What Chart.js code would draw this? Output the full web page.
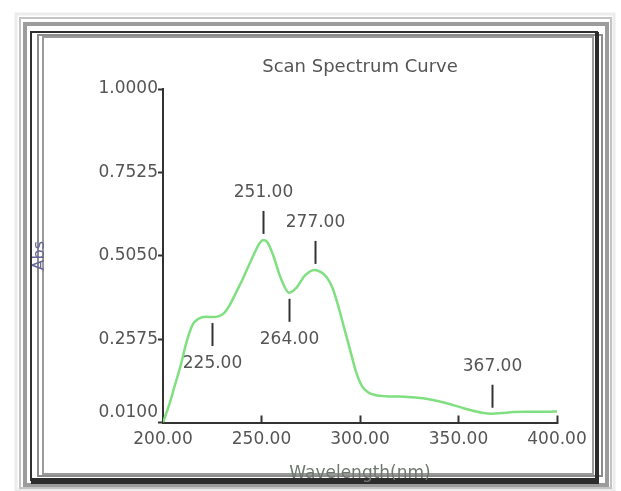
<!DOCTYPE html>
<html>
<head>
<meta charset="utf-8">
<script src="https://cdn.jsdelivr.net/npm/chart.js@4.4.1/dist/chart.umd.min.js"></script>
<style>
  html, body { margin: 0; padding: 0; background: #ffffff; overflow: hidden; }
  #wrap { width: 621px; height: 491px; }
</style>
</head>
<body>
<div id="wrap"><canvas id="spectrum" width="621" height="491"></canvas></div>
<script>
// Scan spectrum: wavelength (nm) against absorbance
const wavelengths = [200, 203, 206, 209, 212, 215, 218, 222, 225, 228, 231, 234, 237, 240, 244, 247, 249, 251, 253, 256, 260, 264, 268, 272, 277, 280, 283, 286, 289, 292, 295, 298, 301, 304, 308, 313, 320, 328, 335, 342, 350, 356, 362, 367, 372, 378, 384, 390, 395, 400];
const absorbance  = [0.010, 0.060, 0.120, 0.180, 0.250, 0.300, 0.318, 0.324, 0.323, 0.325, 0.335, 0.360, 0.395, 0.430, 0.482, 0.520, 0.542, 0.552, 0.545, 0.505, 0.435, 0.395, 0.412, 0.446, 0.463, 0.457, 0.442, 0.410, 0.355, 0.290, 0.225, 0.160, 0.118, 0.100, 0.091, 0.088, 0.087, 0.084, 0.079, 0.070, 0.057, 0.047, 0.039, 0.036, 0.038, 0.041, 0.042, 0.042, 0.042, 0.043];

// Wavelengths picked out on the curve
const peakWavelengths = [225, 251, 264, 277, 367];

// Axis ticks
const xTicks = [200, 250, 300, 350, 400];
const yTicks = [0.0100, 0.2575, 0.5050, 0.7525, 1.0000];

const FONT = 'DejaVu Sans';
const TEXT = '#555555';
const AXIS = '#333333';

// Window-style frame around the plot
const framePlugin = {
  id: 'frame',
  beforeDraw(chart) {
    const ctx = chart.ctx;
    ctx.save();
    ctx.fillStyle = '#ffffff';
    ctx.fillRect(0, 0, chart.width, chart.height);
    const rings = [
      { c: '#ececec', w: 3, l: 16, t: 14, r: 614, b: 490 },
      { c: '#c4c4c4', w: 2, l: 20, t: 18, r: 611, b: 488 },
      { c: '#9c9c9c', w: 4, l: 25, t: 24, r: 607, b: 485 },
      { c: '#303030', w: 2, l: 31, t: 32, r: 597, b: 480 },
      { c: '#8c8c8c', w: 2, l: 38, t: 35, r: 602, b: 476 },
      { c: '#9a9a9a', w: 2, l: 43, t: 37, r: 593, b: 474 }
    ];
    rings.forEach(g => {
      ctx.strokeStyle = g.c;
      ctx.lineWidth = g.w;
      ctx.strokeRect(g.l, g.t, g.r - g.l, g.b - g.t);
    });
    // heavier bottom and right edges
    ctx.fillStyle = '#2c2c2c';
    ctx.fillRect(31, 478, 567, 6);
    ctx.fillRect(595, 32, 4, 452);
    ctx.restore();
  }
};

// Heading centred over the plot area
const headingPlugin = {
  id: 'heading',
  afterDraw(chart, args, opts) {
    const { ctx, chartArea } = chart;
    ctx.save();
    ctx.font = `18px "${FONT}"`;
    ctx.fillStyle = TEXT;
    ctx.textAlign = 'center';
    ctx.textBaseline = 'middle';
    ctx.fillText(opts.text, (chartArea.left + chartArea.right) / 2, opts.y);
    ctx.restore();
  }
};

// Short tick and wavelength text at each picked wavelength
const peakMarksPlugin = {
  id: 'peakMarks',
  afterDatasetsDraw(chart, args, opts) {
    const { ctx, scales: { x, y } } = chart;
    ctx.save();
    ctx.strokeStyle = AXIS;
    ctx.lineWidth = 2;
    ctx.fillStyle = TEXT;
    ctx.font = `17px "${FONT}"`;
    ctx.textAlign = 'center';
    ctx.textBaseline = 'middle';
    peakWavelengths.forEach(w => {
      const i = wavelengths.indexOf(w);
      const px = Math.round(x.getPixelForValue(w)) + 0.5;
      const py = y.getPixelForValue(absorbance[i]);
      const dir = opts.below.includes(w) ? 1 : -1;
      const a = py + dir * opts.gap;
      const b = a + dir * opts.length;
      ctx.beginPath();
      ctx.moveTo(px, a);
      ctx.lineTo(px, b);
      ctx.stroke();
      ctx.fillText(w.toFixed(2), px, b + dir * opts.textGap);
    });
    ctx.restore();
  }
};

new Chart(document.getElementById('spectrum'), {
  type: 'line',
  data: {
    labels: wavelengths,
    datasets: [{
      data: wavelengths.map((w, i) => ({ x: w, y: absorbance[i] })),
      borderColor: '#80df80',
      borderWidth: 2.5,
      pointRadius: 0,
      cubicInterpolationMode: 'monotone',
      fill: false
    }]
  },
  options: {
    responsive: false,
    animation: false,
    devicePixelRatio: 1,
    layout: { padding: { left: 30, top: 89, right: 64, bottom: 0 } },
    plugins: {
      legend: { display: false },
      tooltip: { enabled: false },
      heading: { text: 'Scan Spectrum Curve', y: 67 },
      peakMarks: { below: [225, 264], gap: 6, length: 23, textGap: 18 }
    },
    scales: {
      x: {
        type: 'linear',
        min: 200,
        max: 400,
        afterBuildTicks: s => { s.ticks = xTicks.map(v => ({ value: v })); },
        afterFit: s => { s.height = 68.5; },
        ticks: {
          autoSkip: false,
          maxRotation: 0,
          padding: 14,
          color: TEXT,
          font: { family: FONT, size: 17, lineHeight: 1.2 },
          callback: v => Number(v).toFixed(2)
        },
        grid: { drawOnChartArea: false, drawTicks: true, tickLength: -7, tickColor: AXIS, tickWidth: 2 },
        border: { color: AXIS, width: 2 },
        title: {
          display: true,
          text: 'Wavelength(nm)',
          color: '#6e786e',
          font: { family: FONT, size: 17, lineHeight: 1.2 },
          padding: { top: 0, bottom: 7 }
        }
      },
      y: {
        type: 'linear',
        min: 0.01,
        max: 1.0,
        afterBuildTicks: s => { s.ticks = yTicks.map(v => ({ value: v })); },
        afterFit: s => { s.width = 133; },
        ticks: {
          autoSkip: false,
          padding: 0,
          color: TEXT,
          font: { family: FONT, size: 17, lineHeight: '20px' },
          // the bottom label sits a little above the corner
          callback: (v, i) => i === 0 ? [Number(v).toFixed(4), ''] : Number(v).toFixed(4)
        },
        grid: { drawOnChartArea: false, drawTicks: true, tickLength: 5, tickColor: AXIS, tickWidth: 2 },
        border: { color: AXIS, width: 2 },
        title: {
          display: true,
          text: 'Abs',
          color: '#66669a',
          font: { family: FONT, size: 16, lineHeight: 1.2 },
          padding: { top: 0, bottom: 0 }
        }
      }
    }
  },
  plugins: [framePlugin, headingPlugin, peakMarksPlugin]
});
</script>
</body>
</html>
